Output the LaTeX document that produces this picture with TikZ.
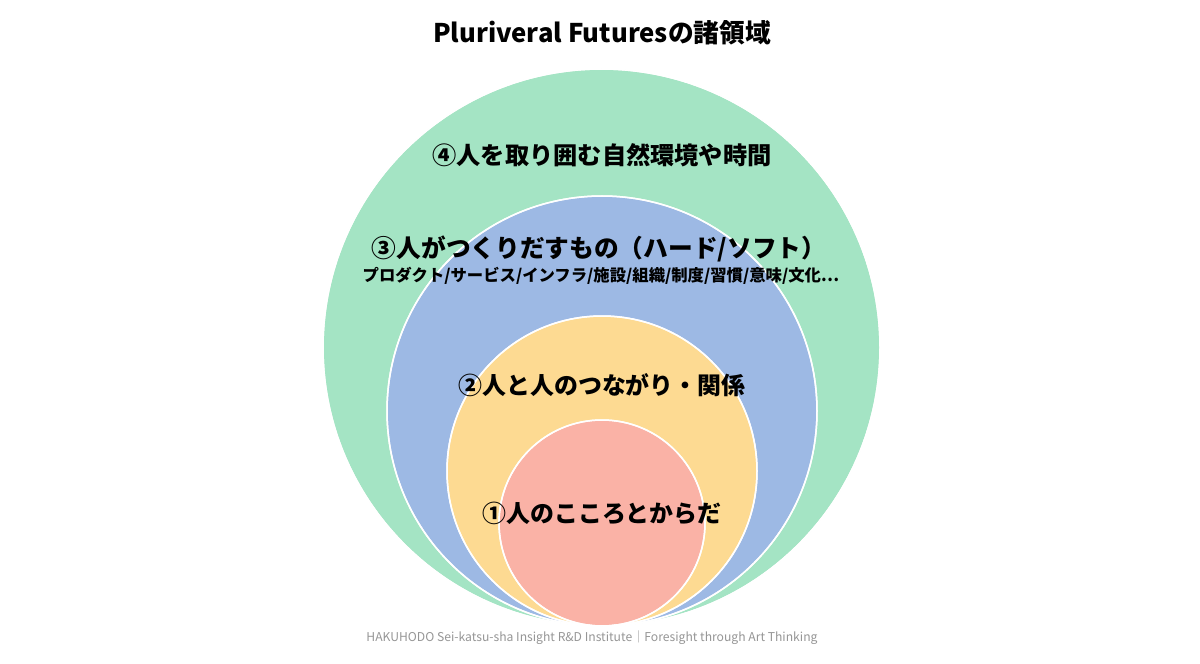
\documentclass[tikz,border=0pt]{standalone}
\usepackage{fontspec}
\setmainfont{Noto Sans CJK JP}
\definecolor{cgreen}{RGB}{164,228,196}
\definecolor{cblue}{RGB}{157,185,228}
\definecolor{cyellow}{RGB}{253,218,146}
\definecolor{cpink}{RGB}{250,178,166}
\definecolor{cfoot}{RGB}{150,150,150}
\begin{document}
\begin{tikzpicture}[x=1bp,y=-1bp,
  ring/.style={draw=white,line width=1.5bp},
  lab/.style={font=\fontsize{24}{28}\selectfont\bfseries,text=black,inner sep=0pt,anchor=center},
  sublab/.style={font=\fontsize{16.4}{18}\selectfont\bfseries,text=black,inner sep=0pt,anchor=center}]
\useasboundingbox[fill=white] (0,0) rectangle (1200,664);
\fill[ring,fill=cgreen] (601.5,347.5) circle[radius=278.5];
\fill[ring,fill=cblue] (602,411) circle[radius=215];
\fill[ring,fill=cyellow] (602,471) circle[radius=155];
\fill[ring,fill=cpink] (602,523) circle[radius=103];
\draw[ring] (601.5,347.5) circle[radius=278.5];
\draw[ring] (602,411) circle[radius=215];
\draw[ring] (602,471) circle[radius=155];
\draw[ring] (602,523) circle[radius=103];
\node[lab,font=\fontsize{25.8}{28}\selectfont\bfseries] (title) at (602,33) {Pluriveral Futuresの諸領域};
\node[lab,font=\fontsize{24.3}{28}\selectfont\bfseries] (l4) at (602,155) {④人を取り囲む自然環境や時間};
\node[lab,font=\fontsize{24.8}{28}\selectfont\bfseries] (l3) at (599,249) {③人がつくりだすもの（ハード/ソフト）};
\node[sublab] (l3s) at (601,276) {プロダクト/サービス/インフラ/施設/組織/制度/習慣/意味/文化…};
\node[lab] (l2) at (602,385) {②人と人のつながり・関係};
\node[lab] (l1) at (602,513) {①人のこころとからだ};
\node[font=\fontsize{12.2}{14}\selectfont,text=cfoot,inner sep=0pt] (foot) at (592,638) {HAKUHODO Sei-katsu-sha Insight R\&D Institute｜Foresight through Art Thinking};
\end{tikzpicture}
\end{document}
